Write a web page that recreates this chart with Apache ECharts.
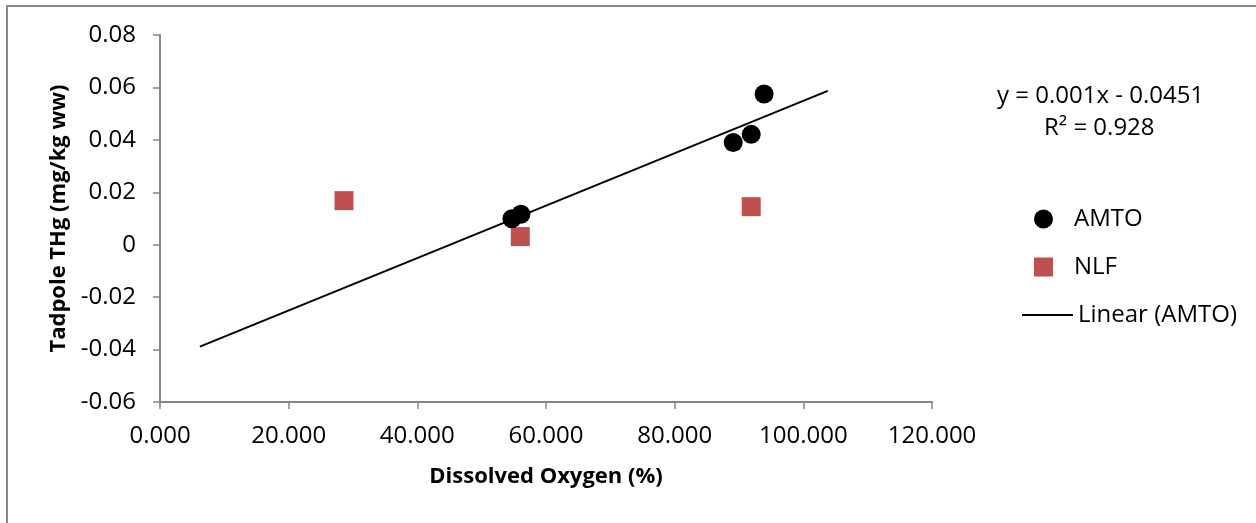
<!DOCTYPE html>
<html>
<head>
<meta charset="utf-8">
<script src="https://cdn.jsdelivr.net/npm/echarts@6/dist/echarts.min.js"></script>
<style>
  html, body { margin: 0; padding: 0; background: #fff; }
  #chart { width: 1256px; height: 523px; }
</style>
</head>
<body>
<div id="chart"></div>
<script>
// Tadpole total mercury vs dissolved oxygen, two sites
const amtoOxygen = [54.7, 56.1, 89.1, 91.9, 93.9];
const amtoTHg = [0.0099, 0.0116, 0.0390, 0.0421, 0.0575];
const nlfOxygen = [28.6, 56.0, 91.9];
const nlfTHg = [0.0168, 0.0031, 0.0145];

// Linear fit for AMTO, as stated on the chart
const fitSlope = 0.001;
const fitIntercept = -0.0451;
const fitR2 = 0.928;
const fitRange = [6.2, 103.8];

const xTicks = { min: 0, max: 120, step: 20 };
const yTicks = { min: -0.06, max: 0.08, step: 0.02 };

const FONT = '"Open Sans", "Liberation Sans", sans-serif';
const AXIS_GRAY = '#868686';

const pairs = (xs, ys) => xs.map((x, i) => [x, ys[i]]);
const fitLine = fitRange.map(x => [x, +(fitSlope * x + fitIntercept).toFixed(5)]);

const chart = echarts.init(document.getElementById('chart'), null, { renderer: 'canvas' });

const legendText = { fontFamily: FONT, fontSize: 24, color: '#000' };

chart.setOption({
  animation: false,
  backgroundColor: '#fff',
  grid: { left: 160, right: 324, top: 35, bottom: 121, containLabel: false },
  xAxis: {
    type: 'value',
    min: xTicks.min, max: xTicks.max, interval: xTicks.step,
    name: 'Dissolved Oxygen (%)',
    nameLocation: 'middle',
    nameGap: 64,
    nameTextStyle: { fontFamily: FONT, fontSize: 22, fontWeight: 'bold', color: '#000' },
    axisLine: { show: true, onZero: false, lineStyle: { color: AXIS_GRAY, width: 2 } },
    axisTick: { show: true, length: 7, inside: false, lineStyle: { color: AXIS_GRAY, width: 1.5 } },
    axisLabel: {
      fontFamily: FONT, fontSize: 24, color: '#000', margin: 22,
      formatter: v => v.toFixed(3)
    },
    splitLine: { show: false }
  },
  yAxis: {
    type: 'value',
    min: yTicks.min, max: yTicks.max, interval: yTicks.step,
    name: 'Tadpole THg (mg/kg ww)',
    nameLocation: 'middle',
    nameGap: 90,
    nameRotate: 90,
    nameTextStyle: { fontFamily: FONT, fontSize: 22, fontWeight: 'bold', color: '#000' },
    axisLine: { show: true, onZero: false, lineStyle: { color: AXIS_GRAY, width: 2 } },
    axisTick: { show: true, length: 7, inside: false, lineStyle: { color: AXIS_GRAY, width: 1.5 } },
    axisLabel: {
      fontFamily: FONT, fontSize: 24, color: '#000', margin: 24,
      formatter: v => Math.abs(v) < 1e-9 ? '0' : v.toFixed(2)
    },
    splitLine: { show: false }
  },
  legend: [
    {
      data: [{ name: 'AMTO', icon: 'circle' }],
      left: 1029, top: 202, itemWidth: 19, itemHeight: 19, selectedMode: false,
      textStyle: Object.assign({ padding: [0, 0, 0, 16] }, legendText)
    },
    {
      data: [{ name: 'NLF', icon: 'rect' }],
      left: 1029, top: 250, itemWidth: 19, itemHeight: 19, selectedMode: false,
      textStyle: Object.assign({ padding: [0, 0, 0, 16] }, legendText)
    },
    {
      data: [{ name: 'Linear (AMTO)', icon: 'rect' }],
      left: 1017, top: 298, itemWidth: 51, itemHeight: 2, selectedMode: false,
      textStyle: Object.assign({ padding: [0, 0, 0, 0] }, legendText)
    }
  ],
  series: [
    {
      name: 'Linear (AMTO)',
      type: 'line',
      data: fitLine,
      symbol: 'none',
      lineStyle: { color: '#000', width: 2 },
      itemStyle: { color: '#000' },
      z: 1
    },
    {
      name: 'AMTO',
      type: 'scatter',
      data: pairs(amtoOxygen, amtoTHg),
      symbol: 'circle',
      symbolSize: 19,
      itemStyle: { color: '#000', opacity: 1 },
      z: 3
    },
    {
      name: 'NLF',
      type: 'scatter',
      data: pairs(nlfOxygen, nlfTHg),
      symbol: 'rect',
      symbolSize: 19,
      itemStyle: { color: '#C0504D', opacity: 1 },
      z: 2
    }
  ],
  graphic: [
    {
      type: 'rect',
      shape: { x: 7, y: 6, width: 1262, height: 540 },
      style: { fill: 'none', stroke: '#898989', lineWidth: 2 },
      silent: true, z: -1
    },
    {
      type: 'text',
      left: 997, top: 84,
      style: {
        text: 'y = ' + fitSlope.toFixed(3) + 'x - ' + Math.abs(fitIntercept).toFixed(4),
        font: '24px ' + FONT, fill: '#000'
      }
    },
    {
      type: 'text',
      left: 1044, top: 116,
      style: {
        text: 'R² = ' + fitR2.toFixed(3),
        font: '24px ' + FONT, fill: '#000'
      }
    }
  ]
});
</script>
</body>
</html>
